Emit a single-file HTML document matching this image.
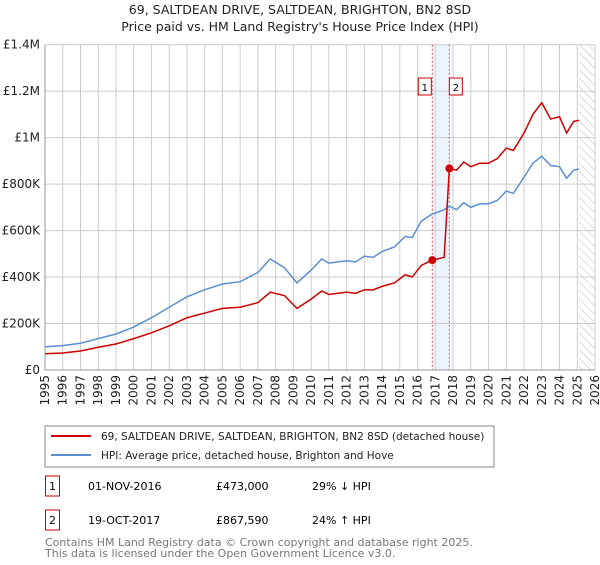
<!DOCTYPE html>
<html><head><meta charset="utf-8"><style>
body{margin:0;background:#fff;font-family:"Liberation Sans","DejaVu Sans",sans-serif;}
svg text{font-family:"DejaVu Sans","Liberation Sans",sans-serif;}
</style></head><body>
<svg id="chart" width="600" height="560" viewBox="0 0 600 560" xmlns="http://www.w3.org/2000/svg">
<defs><pattern id="hatch" width="6" height="6" patternUnits="userSpaceOnUse" patternTransform="rotate(-45)"><line x1="0" y1="0" x2="0" y2="6" stroke="#bbb" stroke-width="1"/></pattern></defs>
<text x="300" y="14" text-anchor="middle" font-size="12.5" fill="#222">69, SALTDEAN DRIVE, SALTDEAN, BRIGHTON, BN2 8SD</text>
<text x="300" y="31" text-anchor="middle" font-size="12.5" fill="#222">Price paid vs. HM Land Registry's House Price Index (HPI)</text>
<g id="grid"></g><g id="marks"></g>
<rect x="45" y="426" width="449" height="41" fill="#fff" stroke="#888"/>
<line x1="51" y1="436" x2="91" y2="436" stroke="#cc0000" stroke-width="2"/>
<text x="101" y="440" font-size="10.5" fill="#222">69, SALTDEAN DRIVE, SALTDEAN, BRIGHTON, BN2 8SD (detached house)</text>
<line x1="51" y1="455" x2="91" y2="455" stroke="#5b8fd0" stroke-width="2"/>
<text x="101" y="459" font-size="10.5" fill="#222">HPI: Average price, detached house, Brighton and Hove</text>
<rect x="45.5" y="476" width="14" height="20" fill="none" stroke="#cc0000"/>
<text x="52.5" y="490" text-anchor="middle" font-size="11">1</text>
<text x="88" y="490" font-size="11">01-NOV-2016</text>
<text x="216" y="490" font-size="11">£473,000</text>
<text x="312" y="490" font-size="11">29% ↓ HPI</text>
<rect x="45.5" y="510" width="14" height="20" fill="none" stroke="#cc0000"/>
<text x="52.5" y="524" text-anchor="middle" font-size="11">2</text>
<text x="88" y="524" font-size="11">19-OCT-2017</text>
<text x="216" y="524" font-size="11">£867,590</text>
<text x="312" y="524" font-size="11">24% ↑ HPI</text>
<text x="45" y="546" font-size="11" fill="#777">Contains HM Land Registry data © Crown copyright and database right 2025.</text>
<text x="45" y="557" font-size="11" fill="#777">This data is licensed under the Open Government Licence v3.0.</text>
</svg>
<script>
const hpiYears=[1995,1996,1997,1998,1999,2000,2001,2002,2003,2004,2005,2006,2007,2007.7,2008.5,2009.2,2010,2010.6,2011,2012,2012.5,2013,2013.5,2014,2014.7,2015.3,2015.7,2016.2,2016.8,2017.5,2017.8,2018.2,2018.6,2019,2019.5,2020,2020.5,2021,2021.4,2022,2022.5,2023,2023.5,2024,2024.4,2024.8,2025.1];
const hpiValues=[100,105,115,135,155,185,225,270,315,345,370,380,420,478,440,375,430,478,460,470,465,490,485,510,530,575,570,640,670,690,705,690,720,700,715,715,730,770,760,830,890,920,880,875,825,860,865];
const priceYears=[1995,1996,1997,1998,1999,2000,2001,2002,2003,2004,2005,2006,2007,2007.7,2008.5,2009.2,2010,2010.6,2011,2012,2012.5,2013,2013.5,2014,2014.7,2015.3,2015.7,2016.2,2016.83,2017.5,2017.79,2018.2,2018.6,2019,2019.5,2020,2020.5,2021,2021.4,2022,2022.5,2023,2023.5,2024,2024.4,2024.8,2025.1];
const priceValues=[70,73,82,98,112,135,160,190,225,245,265,270,290,335,320,265,305,340,325,335,330,345,345,360,375,410,400,450,473,485,867.59,860,895,875,890,890,910,955,945,1020,1100,1150,1080,1090,1020,1070,1075];
const saleYears=[2016.83,2017.79];
const saleValues=[473,867.59];
const saleLabels=["1","2"];
const yTicks=[0,200,400,600,800,1000,1200,1400];
const yTickLabels=["£0","£200K","£400K","£600K","£800K","£1M","£1.2M","£1.4M"];
const xTicks=[1995,1996,1997,1998,1999,2000,2001,2002,2003,2004,2005,2006,2007,2008,2009,2010,2011,2012,2013,2014,2015,2016,2017,2018,2019,2020,2021,2022,2023,2024,2025,2026];

const NS="http://www.w3.org/2000/svg";
const X0=45,X1=595,Y0=370,Y1=44.7;
const x=v=>X0+(v-1995)/(2026-1995)*(X1-X0);
const y=v=>Y0-v/1400*(Y0-Y1);
function mk(tag,attrs,parent){const e=document.createElementNS(NS,tag);for(const k in attrs)e.setAttribute(k,attrs[k]);parent.appendChild(e);return e;}
const grid=document.getElementById('grid'),marks=document.getElementById('marks');
let band=mk('rect',{x:x(saleYears[0]),y:Y1,width:x(saleYears[1])-x(saleYears[0]),height:Y0-Y1,fill:'#eef4ff'},grid);


let hatch=mk('rect',{x:x(2025.1),y:Y1,width:X1-x(2025.1),height:Y0-Y1,fill:'url(#hatch)'},grid);


yTicks.forEach((t,i)=>{
  let l=mk('line',{x1:X0,x2:X1,y1:y(t),y2:y(t),stroke:'#ccc'},grid);
  
  
  let tx=mk('text',{x:X0-5,y:y(t)+4,'text-anchor':'end','font-size':'12',fill:'#222'},grid);
  tx.textContent=yTickLabels[i];
  
  
});
xTicks.forEach(t=>{
  let l=mk('line',{x1:x(t),x2:x(t),y1:Y1,y2:Y0,stroke:'#ccc'},grid);
  
  
  let tx=mk('text',{x:0,y:0,'text-anchor':'end','font-size':'12',fill:'#222',transform:`translate(${x(t)+4},${Y0+5}) rotate(-90)`},grid);
  tx.textContent=t;
  
  
});
saleYears.forEach((s,i)=>{
  let l=mk('line',{x1:x(s),x2:x(s),y1:Y1,y2:Y0,stroke:'#e05050','stroke-dasharray':'2,2'},grid);
  
  
  let r=mk('rect',{x:x(s)+(i==0?-14:0),y:78,width:13,height:17,fill:'#fff',stroke:'#cc0000'},marks);
  
  
  let t=mk('text',{x:x(s)+(i==0?-7.5:6.5),y:91,'text-anchor':'middle','font-size':'10'},marks);
  t.textContent=saleLabels[i];
  
  
});
let hp=mk('polyline',{points:hpiYears.map((v,i)=>x(v)+','+y(hpiValues[i])).join(' '),fill:'none',stroke:'#5b8fd0','stroke-width':1.5},marks);


let pp=mk('polyline',{points:priceYears.map((v,i)=>x(v)+','+y(priceValues[i])).join(' '),fill:'none',stroke:'#cc0000','stroke-width':1.5},marks);


saleYears.forEach((s,i)=>{
  let c=mk('circle',{cx:x(s),cy:y(saleValues[i]),r:4,fill:'#cc0000'},marks);
  
  
});
let ax=mk('line',{x1:X0,x2:X1,y1:Y0,y2:Y0,stroke:'#999'},marks);


let ay=mk('line',{x1:X0,x2:X0,y1:Y1,y2:Y0,stroke:'#999'},marks);


</script>
</body></html>
